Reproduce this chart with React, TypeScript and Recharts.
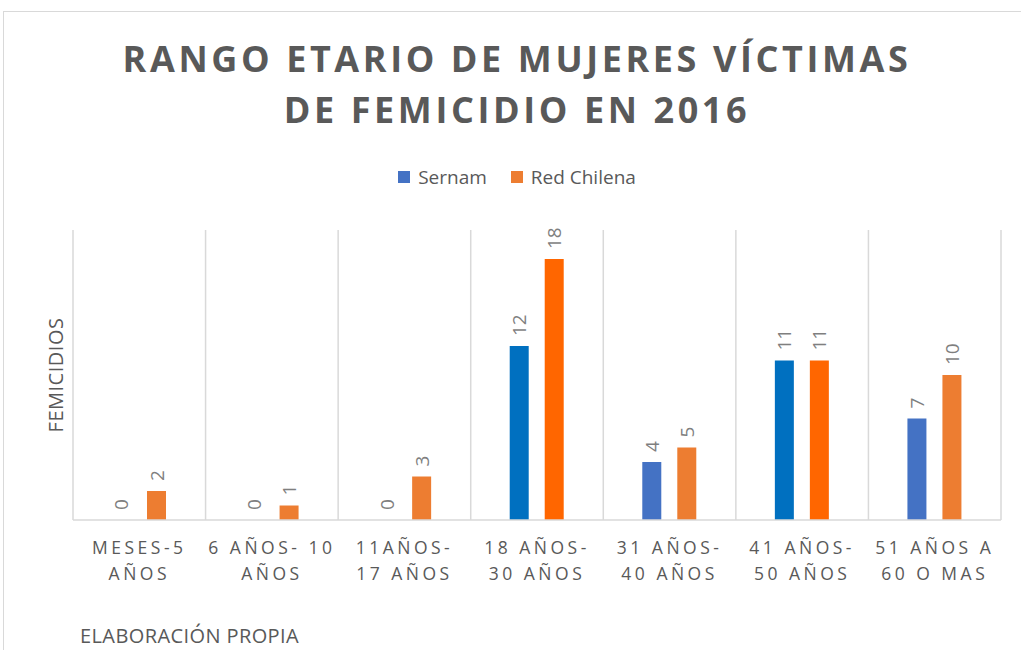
import { BarChart, Bar, XAxis, YAxis, CartesianGrid, Cell, LabelList } from 'recharts';

const categories = [
  'MESES-5\nAÑOS',
  '6 AÑOS- 10\nAÑOS',
  '11AÑOS-\n17 AÑOS',
  '18 AÑOS-\n30 AÑOS',
  '31 AÑOS-\n40 AÑOS',
  '41 AÑOS-\n50 AÑOS',
  '51 AÑOS A\n60 O MAS',
];
const sernam = [0, 0, 0, 12, 4, 11, 7];
const redChilena = [2, 1, 3, 18, 5, 11, 10];
// categories drawn with the stronger palette in the original
const highlighted = [false, false, false, true, false, true, false];

const SERNAM = '#4472C4';
const SERNAM_DARK = '#0070C0';
const RED = '#ED7D31';
const RED_DARK = '#FF6600';
const TEXT = '#595959';
const FONT = '"Open Sans", Calibri, sans-serif';

const data = categories.map((c, i) => ({
  cat: c,
  sernam: sernam[i],
  red: redChilena[i],
  hi: highlighted[i],
}));

// zero bars still need a (hair-thin) rectangle so their "0" label gets drawn
const keepZero = (value: any) => (Number(value) === 0 ? 0.01 : 0);

function CategoryTick(props: any) {
  const { x, y, payload } = props;
  const lines = String(payload.value).split('\n');
  return (
    <g transform={`translate(${x},${y})`}>
      {lines.map((l, i) => (
        <text
          key={i}
          x={0}
          y={26 + i * 26}
          textAnchor="middle"
          fill={TEXT}
          fontSize={17.5}
          fontFamily={FONT}
          style={{ letterSpacing: 3.5 }}
        >
          {l}
        </text>
      ))}
    </g>
  );
}

function ValueLabel(props: any) {
  const { x, y, width, height, value } = props;
  const cx = Number(x) + Number(width) / 2;
  const top = Math.min(Number(y), Number(y) + Number(height || 0));
  const ty = top - 10;
  return (
    <text
      x={cx}
      y={ty}
      transform={`rotate(-90 ${cx} ${ty})`}
      textAnchor="start"
      dominantBaseline="central"
      fill="#7f7f7f"
      fontSize={19}
      fontFamily={FONT}
    >
      {String(value)}
    </text>
  );
}

function LegendBox() {
  const items = [
    { label: 'Sernam', color: SERNAM },
    { label: 'Red Chilena', color: RED },
  ];
  return (
    <div style={{ display: 'flex', justifyContent: 'center', gap: 24, fontFamily: FONT, fontSize: 19, color: TEXT }}>
      {items.map(it => (
        <div key={it.label} style={{ display: 'flex', alignItems: 'center' }}>
          <span style={{ width: 12, height: 12, background: it.color, display: 'inline-block', marginRight: 8 }} />
          {it.label}
        </div>
      ))}
    </div>
  );
}

export default function App() {
  return (
    <div style={{ position: 'absolute', left: 0, top: 0, width: 1021, height: 650, overflow: 'hidden', background: '#fff' }}>
      <div style={{ position: 'absolute', left: 3, top: 11, width: 1100, height: 800, border: '1px solid #d9d9d9' }} />
      <div
        style={{
          position: 'absolute',
          left: 0,
          top: 33,
          width: 1034,
          textAlign: 'center',
          fontFamily: FONT,
          fontWeight: 700,
          fontSize: 36,
          lineHeight: '51px',
          letterSpacing: 3.6,
          color: TEXT,
        }}
      >
        RANGO ETARIO DE MUJERES VÍCTIMAS
        <br />
        DE FEMICIDIO EN 2016
      </div>
      <div style={{ position: 'absolute', left: 0, top: 164, width: 1034 }}>
        <LegendBox />
      </div>
      <div
        style={{
          position: 'absolute',
          left: 55,
          top: 375,
          transform: 'translate(-50%, -50%) rotate(-90deg)',
          fontFamily: FONT,
          fontSize: 20,
          letterSpacing: 0.5,
          color: TEXT,
          whiteSpace: 'nowrap',
        }}
      >
        FEMICIDIOS
      </div>
      <div
        style={{
          position: 'absolute',
          left: 80,
          top: 622,
          fontFamily: FONT,
          fontSize: 20,
          letterSpacing: 0.4,
          color: TEXT,
          whiteSpace: 'nowrap',
        }}
      >
        ELABORACIÓN PROPIA
      </div>
      <div style={{ position: 'absolute', left: 0, top: 0 }}>
        <BarChart
          width={1021}
          height={650}
          data={data}
          margin={{ top: 230, right: 20, bottom: 0, left: 73 }}
          barSize={19}
          barGap={16}
        >
          <CartesianGrid
            horizontal={false}
            stroke="#d9d9d9"
            strokeWidth={1.5}
            verticalCoordinatesGenerator={({ offset }: any) =>
              categories.map((_, i) => offset.left + (i * offset.width) / categories.length).concat(offset.left + offset.width)
            }
          />
          <XAxis
            dataKey="cat"
            interval={0}
            height={130}
            tickLine={false}
            axisLine={{ stroke: '#d9d9d9', strokeWidth: 1.5 }}
            tick={<CategoryTick />}
          />
          <YAxis hide domain={[0, 20]} />
          <Bar dataKey="sernam" name="Sernam" fill={SERNAM} isAnimationActive={false} minPointSize={keepZero}>
            {data.map((d, i) => (
              <Cell key={i} fill={d.hi ? SERNAM_DARK : SERNAM} />
            ))}
            <LabelList dataKey="sernam" content={<ValueLabel />} />
          </Bar>
          <Bar dataKey="red" name="Red Chilena" fill={RED} isAnimationActive={false}>
            {data.map((d, i) => (
              <Cell key={i} fill={d.hi ? RED_DARK : RED} />
            ))}
            <LabelList dataKey="red" content={<ValueLabel />} />
          </Bar>
        </BarChart>
      </div>
    </div>
  );
}
